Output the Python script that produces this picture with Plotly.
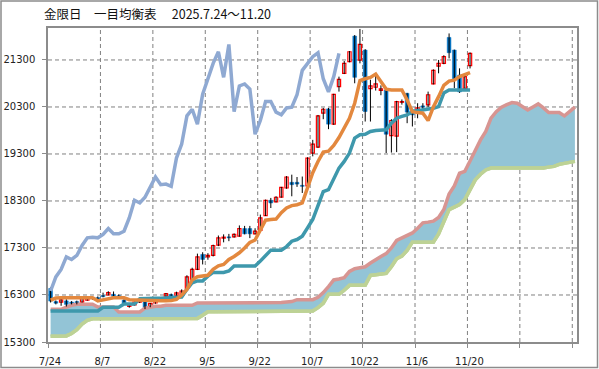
import plotly.graph_objects as go

dates = ["7/24","7/25","7/28","7/29","7/30","7/31","8/1","8/4","8/5","8/6",
         "8/7","8/8","8/12","8/13","8/14","8/15","8/18","8/19","8/20","8/21",
         "8/22","8/25","8/26","8/27","8/28","8/29","9/1","9/2","9/3","9/4",
         "9/5","9/8","9/9","9/10","9/11","9/12","9/16","9/17","9/18","9/19",
         "9/22","9/24","9/25","9/26","9/29","9/30","10/1","10/2","10/3","10/6",
         "10/7","10/8","10/9","10/10","10/14","10/15","10/16","10/17","10/20","10/21",
         "10/22","10/23","10/24","10/27","10/28","10/29","10/30","10/31","11/4","11/5",
         "11/6","11/7","11/10","11/11","11/12","11/13","11/14","11/17","11/18","11/19",
         "11/20"]

opens = [16440,16160,16150,16175,16150,16160,16150,16190,16235,16245,
         16290,16300,16315,16285,16190,16055,16090,16150,16173,16055,
         16130,16180,16275,16310,16295,16300,16440,16620,16844,17163,
         17113,17141,17360,17510,17537,17537,17551,17714,17714,17601,
         17672,17990,18315,18280,18380,18576,18697,18697,18633,18620,
         19319,19446,20167,20259,19934,20733,21016,21263,21808,21298,
         21511,20690,20719,20655,20660,19690,19680,20400,20590,20238,
         20217,20323,20344,20790,21171,21228,21780,21511,20980,20697,
         21178]
highs = [16470,16185,16215,16210,16170,16180,16235,16250,16260,16270,
         16350,16380,16375,16310,16210,16100,16160,16190,16190,16130,
         16200,16235,16340,16330,16370,16420,16720,16880,17180,17210,
         17190,17370,17565,17590,17600,17610,17780,17770,17770,17720,
         18010,18330,18365,18400,18600,18830,18860,18810,18820,19230,
         19600,20130,20280,20280,20580,20945,21277,21490,21830,21960,
         21530,20880,21001,20760,20700,20040,20430,20460,20600,20260,
         20380,20380,20627,21100,21300,21400,21864,21520,21122,20960,
         21460]
lows = [16140,16100,16070,16055,16100,16100,16140,16180,16200,16200,
        16250,16290,16255,16240,16100,16030,16075,16130,16000,16040,
        16115,16160,16260,16250,16280,16290,16420,16590,16830,16950,
        17050,17120,17340,17420,17445,17520,17540,17590,17510,17590,
        17660,17980,18150,18270,18370,18560,18400,18600,18470,18600,
        19250,19430,20040,19828,19920,20627,21000,21250,20804,21228,
        19990,19990,20650,20550,19320,19330,19340,20350,19955,19885,
        20060,20250,20300,20780,21016,21210,21334,20700,20600,20690,
        21120]
closes = [16170,16125,16195,16100,16115,16115,16225,16235,16220,16215,
          16265,16350,16270,16262,16120,16085,16150,16170,16025,16120,
          16190,16220,16328,16270,16345,16385,16685,16844,17110,17056,
          17141,17353,17516,17530,17516,17590,17714,17601,17601,17657,
          17940,18315,18258,18379,18590,18810,18647,18660,18612,19213,
          19510,20111,20252,19934,20570,20888,21228,21475,20931,21631,
          20203,20747,20790,20683,19720,20012,20415,20415,20190,20132,
          20280,20295,20560,21080,21228,21370,21454,20900,20620,20945,
          21440]

tenkan = [16190,16235,16243,16243,16243,16243,16243,16243,16240,16175,
          16200,16222,16243,16243,16243,16200,16194,16194,16180,16175,
          16175,16175,16175,16180,16208,16300,16420,16620,16689,16700,
          16720,16844,16920,16950,17056,17120,17198,17300,17420,17470,
          17693,17891,17905,17915,18050,18150,18202,18220,18258,18580,
          18900,19140,19340,19360,19480,19650,19860,20060,20380,20860,
          20900,20930,21000,20850,20680,20662,20662,20662,20450,20200,
          20180,20167,20012,20300,20520,20760,20850,20870,20945,20980,
          21030]
kijun = [15960,15960,15960,15960,15960,15960,15960,15960,15960,15960,
         16040,16040,16040,16040,16110,16110,16110,16222,16230,16230,
         16230,16230,16240,16250,16258,16258,16420,16560,16600,16600,
         16700,16780,16780,16780,16810,16915,16915,16915,16915,16915,
         17021,17141,17254,17254,17254,17330,17445,17480,17550,17728,
         17905,18200,18500,18541,18753,19000,19142,19319,19637,19708,
         19720,19778,19800,19814,19814,19955,20061,20100,20132,20203,
         20220,20238,20250,20273,20309,20600,20662,20662,20662,20662,
         20662]
span_b = [15996,15996,15996,16040,16081,16102,16102,16102,16102,16045,
          16045,16045,16045,15940,15940,15940,15940,15940,16020,16045,
          16060,16060,16081,16081,16081,16081,16081,16081,16130,16130,
          16130,16130,16130,16130,16130,16130,16130,16130,16130,16130,
          16130,16130,16130,16130,16140,16150,16160,16200,16200,16200,
          16200,16250,16350,16480,16620,16640,16668,16800,16860,16880,
          16900,16980,17060,17120,17180,17300,17460,17520,17560,17620,
          17720,17834,17850,17870,17950,18117,18450,18620,18890,18930,
          19150,19390,19600,19780,20061,20200,20295,20350,20394,20380,
          20300,20238,20300,20365,20280,20181,20181,20181,20110,20200,
          20295]
span_a = [15420,15420,15420,15430,15480,15560,15680,15760,15795,15795,
          15795,15795,15795,15795,15795,15795,15795,15795,15795,15795,
          15795,15795,15795,15795,15795,15795,15795,15795,15800,15870,
          15945,15945,15945,15945,15945,15945,15945,15945,15945,15945,
          15945,15945,15945,15945,15945,15945,15945,15950,15955,15960,
          15960,16031,16123,16314,16314,16314,16400,16505,16505,16505,
          16505,16717,16730,16750,16760,16900,17070,17127,17250,17424,
          17424,17424,17424,17424,17600,17850,18117,18170,18223,18330,
          18550,18750,18870,18960,19000,19000,19000,19000,19000,19000,
          19000,19000,19000,19000,19000,19020,19036,19080,19107,19130,
          19142]

y_ticks = [15300, 16300, 17300, 18300, 19300, 20300, 21300]
title_text = "金限日　一目均衡表　 2025.7.24～11.20"
chikou_shift = 25

n = len(closes)
xc = [i + 0.5 for i in range(n)]
xs = [i + 0.5 for i in range(len(span_a))]

fig = go.Figure()

# cloud
fig.add_trace(go.Scatter(x=xs, y=span_a, mode="lines",
                         line=dict(color="#BDD295", width=3.5), hoverinfo="skip"))
fig.add_trace(go.Scatter(x=xs, y=span_b, mode="lines", fill="tonexty",
                         fillcolor="#93C4D6",
                         line=dict(color="#D79592", width=3.5), hoverinfo="skip"))
fig.add_trace(go.Scatter(x=xs, y=span_a, mode="lines",
                         line=dict(color="#BDD295", width=3.5), hoverinfo="skip"))

# wicks
wx, wy = [], []
for i in range(n):
    wx += [xc[i], xc[i], None]
    wy += [lows[i], highs[i], None]
fig.add_trace(go.Scatter(x=wx, y=wy, mode="lines",
                         line=dict(color="black", width=1), hoverinfo="skip"))

# bodies
ux, ub, uh, dx, db, dh = [], [], [], [], [], []
for i in range(n):
    o, c = opens[i], closes[i]
    if c >= o:
        ux.append(xc[i]); ub.append(o); uh.append(max(c - o, 12))
    else:
        dx.append(xc[i]); db.append(c); dh.append(o - c)
fig.add_trace(go.Bar(x=ux, y=uh, base=ub, width=0.62,
                     marker=dict(color="white", line=dict(color="#FF0000", width=1.2))))
fig.add_trace(go.Bar(x=dx, y=dh, base=db, width=0.72,
                     marker=dict(color="#0070C0", line=dict(color="#0070C0", width=0.5))))

# kijun, tenkan, chikou
fig.add_trace(go.Scatter(x=xc, y=kijun, mode="lines",
                         line=dict(color="#3E98AC", width=3.5)))
fig.add_trace(go.Scatter(x=xc, y=tenkan, mode="lines",
                         line=dict(color="#E3883E", width=3.5)))
chik_x = [p + 0.5 for p in range(n - chikou_shift)]
chik_y = closes[chikou_shift:]
fig.add_trace(go.Scatter(x=chik_x, y=chik_y, mode="lines",
                         line=dict(color="#8FA9D2", width=3.5)))

tickvals = list(range(0, 101, 10))
ticktext = [dates[v] if v < n else "" for v in tickvals]

grid_shapes = []
for v in tickvals[1:]:
    grid_shapes.append(dict(type="line", xref="x", yref="paper", x0=v, x1=v, y0=0, y1=1,
                            layer="below", line=dict(color="#808080", width=1, dash="4px,3px")))
for v in y_ticks[1:]:
    grid_shapes.append(dict(type="line", xref="paper", yref="y", x0=0, x1=1, y0=v, y1=v,
                            layer="below", line=dict(color="#808080", width=1, dash="4px,3px")))

axis_common = dict(showline=True, linecolor="#8C8C8C", linewidth=1.5, mirror=True,
                   showgrid=False, ticks="outside", ticklen=4, tickcolor="#8C8C8C",
                   tickwidth=1, zeroline=False, automargin=False,
                   tickfont=dict(family="DejaVu Sans", size=10, color="#222222"))

fig.update_layout(
    width=599, height=369,
    margin=dict(l=48, r=22, t=28, b=27, autoexpand=False),
    paper_bgcolor="white", plot_bgcolor="white",
    showlegend=False, barmode="overlay",
    xaxis=dict(range=[0, 100.9], tickmode="array", tickvals=tickvals, ticktext=ticktext,
               ticklabelstandoff=5, ticklabelshift=2, **axis_common),
    yaxis=dict(range=[15300, 21980], tickmode="array", tickvals=y_ticks,
               ticktext=[str(v) for v in y_ticks], ticklabelstandoff=5, **axis_common),
    annotations=[dict(text=title_text, xref="paper", yref="paper",
                      x=(42 - 48) / 529, y=1 + (28 - 13.5) / 314,
                      xanchor="left", yanchor="middle", showarrow=False,
                      font=dict(family="Noto Sans CJK JP", size=12.5, color="#111111"))],
    shapes=grid_shapes + [dict(type="rect", xref="paper", yref="paper",
                 x0=(1 - 48) / 529, x1=(597.5 - 48) / 529,
                 y0=-(367.5 - 342) / 314, y1=1 + (28 - 1) / 314,
                 line=dict(color="#8C8C8C", width=1.5))],
)

fig.write_html("out.html", config={"displayModeBar": False},
               post_script="document.body.style.margin='0';document.body.style.padding='0';")
